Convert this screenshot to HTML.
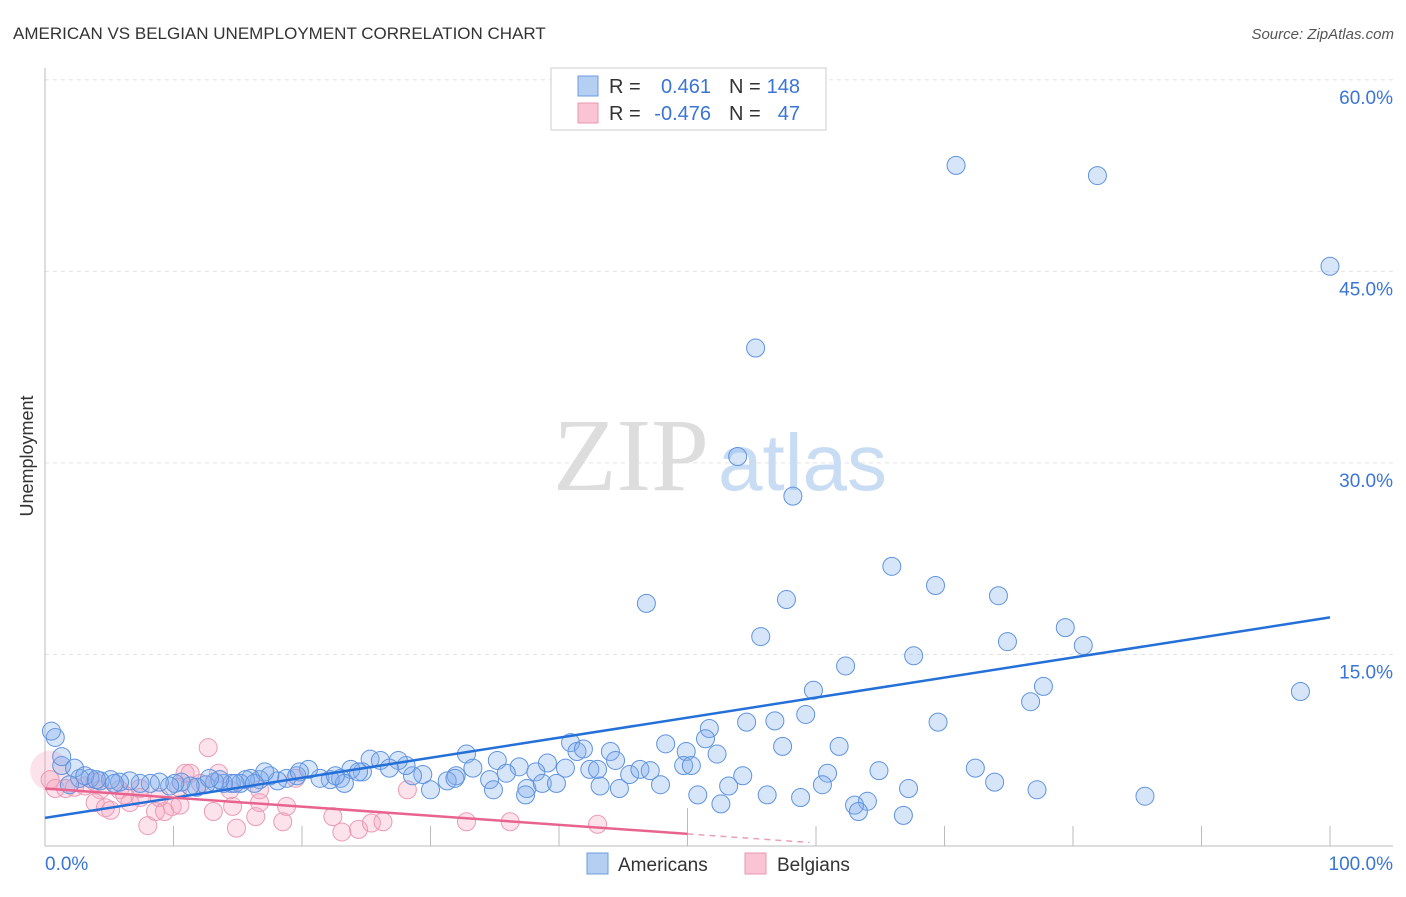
<!DOCTYPE html>
<html><head><meta charset="utf-8"><style>
body{margin:0;background:#fff;font-family:"Liberation Sans",sans-serif}
svg text{font-family:"Liberation Sans",sans-serif}
</style></head><body>
<svg id="c" width="1406" height="892" xmlns="http://www.w3.org/2000/svg">
<text x="13" y="39" font-size="17" fill="#333">AMERICAN VS BELGIAN UNEMPLOYMENT CORRELATION CHART</text>
<text x="1394" y="39" font-size="15" fill="#555" font-style="italic" text-anchor="end">Source: ZipAtlas.com</text>
<text transform="translate(33,456) rotate(-90)" font-size="18" fill="#333" text-anchor="middle">Unemployment</text>
<g id="grid"></g>
<text x="553" y="490" font-size="104" fill="#ddd" style="font-family:'Liberation Serif',serif">ZIP</text>
<text x="718" y="490" font-size="80" fill="#c8dcf3">atlas</text>
<g id="pts"></g>
<g id="lines"></g>
<g>
<rect x="551" y="68" width="275" height="62" fill="#fff" stroke="#ccc"/>
<rect x="578" y="76" width="20" height="20" fill="#b5cff3" stroke="#6d9be0"/>
<rect x="578" y="103" width="20" height="20" fill="#f9c4d3" stroke="#e999b2"/>
<text x="609" y="93" font-size="20" fill="#333">R =</text>
<text x="711" y="93" font-size="20" fill="#3a75d6" text-anchor="end">0.461</text>
<text x="729" y="93" font-size="20" fill="#333">N =</text>
<text x="800" y="93" font-size="20" fill="#3a75d6" text-anchor="end">148</text>
<text x="609" y="120" font-size="20" fill="#333">R =</text>
<text x="711" y="120" font-size="20" fill="#3a75d6" text-anchor="end">-0.476</text>
<text x="729" y="120" font-size="20" fill="#333">N =</text>
<text x="800" y="120" font-size="20" fill="#3a75d6" text-anchor="end">47</text>
</g>
<g>
<rect x="587" y="853" width="21" height="21" fill="#b5cff3" stroke="#6d9be0"/>
<text x="618" y="871" font-size="19" fill="#333">Americans</text>
<rect x="745" y="853" width="21" height="21" fill="#f9c4d3" stroke="#e999b2"/>
<text x="777" y="871" font-size="19" fill="#333">Belgians</text>
</g>
</svg>
<script>
const yTicks=[15,30,45,60];
const yTickLabels=["15.0%","30.0%","45.0%","60.0%"];
const xTicks=[0,10,20,30,40,50,60,70,80,90,100];
const xEndLabels=["0.0%","100.0%"];
const blueX=[70.9,81.9,100,55.3,53.9,58.2,65.9,69.3,74.2,46.8,57.7,55.7,74.9,79.4,80.8,62.3,67.6,59.8,77.7,76.7,97.7,59.2,54.6,56.8,69.5,51.7,51.4,48.3,57.4,61.8,52.3,49.9,49.7,50.3,72.4,64.9,60.9,54.3,73.9,77.2,67.2,60.5,53.2,50.8,56.2,58.8,64.0,63.0,63.3,66.8,85.6,52.6,32.8,35.2,36.9,39.1,40.9,41.4,41.9,44.0,44.4,42.4,40.5,38.2,35.9,34.6,33.3,32.0,31.3,30.0,29.4,28.6,28.1,27.5,25.3,26.1,26.8,24.7,23.8,23.0,22.2,21.4,20.5,19.6,18.8,18.1,17.5,16.7,16.0,15.6,15.2,14.5,13.9,13.2,12.5,11.8,11.3,10.6,10.1,9.7,8.9,8.2,7.4,6.6,5.8,5.1,4.3,3.5,2.7,1.9,1.3,0.8,0.5,1.3,2.3,3.1,4.0,37.5,38.7,39.8,43.2,44.7,45.5,46.3,47.1,47.9,43.0,37.4,34.9,31.9,24.4,23.3,22.6,19.8,17.1,16.3,14.8,13.6,12.8,5.4];
const blueY=[53.3,52.5,45.4,39.0,30.5,27.4,21.9,20.4,19.6,19.0,19.3,16.4,16.0,17.1,15.7,14.1,14.9,12.2,12.5,11.3,12.1,10.3,9.7,9.8,9.7,9.2,8.4,8.0,7.8,7.8,7.2,7.4,6.3,6.3,6.1,5.9,5.7,5.5,5.0,4.4,4.5,4.8,4.7,4.0,4.0,3.8,3.5,3.2,2.7,2.4,3.9,3.3,7.2,6.7,6.2,6.5,8.1,7.4,7.6,7.4,6.7,6.0,6.1,5.8,5.7,5.2,6.1,5.5,5.1,4.4,5.6,5.5,6.3,6.7,6.8,6.7,6.1,5.8,6.0,5.3,5.2,5.3,6.0,5.5,5.3,5.1,5.5,5.2,5.3,5.2,4.9,4.9,4.9,5.0,4.8,4.6,4.7,5.0,4.9,4.7,5.0,4.9,4.9,5.1,5.0,5.2,5.1,5.3,5.3,4.8,6.3,8.5,9.0,7.0,6.1,5.5,5.2,4.5,4.9,4.9,4.7,4.5,5.6,6.0,5.9,4.8,6.0,4.0,4.4,5.3,5.8,4.9,5.5,5.8,5.8,4.9,4.9,5.2,5.3,4.9];
const pinkX=[0.4,0.4,0.8,1.6,2.3,3.1,3.9,4.3,3.9,4.7,5.1,5.8,6.2,6.6,7.4,8.0,8.6,8.9,9.3,9.9,10.5,10.9,11.3,12.1,12.7,13.1,13.5,14.6,14.9,16.4,16.7,18.5,18.8,19.5,22.4,23.1,24.4,25.4,26.3,28.2,32.8,36.2,43.0,7.4,10.4,14.4,16.7];
const pinkY=[5.9,5.2,4.5,4.5,4.6,4.7,5.0,4.4,3.4,3.0,2.8,4.4,4.0,3.4,3.8,1.6,2.7,3.8,2.7,3.1,3.2,5.7,5.7,4.9,7.7,2.7,5.7,3.1,1.4,2.3,3.4,1.9,3.1,5.3,2.3,1.1,1.3,1.8,1.9,4.4,1.9,1.9,1.7,4.5,4.6,4.4,4.4];
const blueTrend=[2.2,17.9];
const pinkTrend=[4.5,-2.6];
const X=v=>45+v*12.85, Y=v=>846-v*12.77;
const NS="http://www.w3.org/2000/svg";
function mk(t,a,p){const e=document.createElementNS(NS,t);for(const k in a)e.setAttribute(k,a[k]);p.appendChild(e);return e;}
const g=document.getElementById('grid');
yTicks.forEach((t,i)=>{
 const l=mk('line',{x1:45,x2:1393,y1:Y(t),y2:Y(t),stroke:'#e3e3e3','stroke-dasharray':'4,4'},g);
 
 
 const tx=mk('text',{x:1393,y:Y(t)+24,'font-size':19,fill:'#3a75d6','text-anchor':'end'},g);
 tx.textContent=yTickLabels[i];
 
 
});
const ax=mk('line',{x1:45,x2:1393,y1:846,y2:846,stroke:'#bbb'},g);


const ay=mk('line',{x1:45,x2:45,y1:68,y2:846,stroke:'#bbb'},g);


xTicks.forEach(t=>{
 const l=mk('line',{x1:X(t),x2:X(t),y1:t==50?808:826,y2:846,stroke:'#bbb'},g);
 
 
});
[[0,'start'],[100,'end']].forEach((d,i)=>{
 const tx=mk('text',{x:i?1393:45,y:870,'font-size':19,fill:'#3a75d6','text-anchor':d[1]},g);
 tx.textContent=xEndLabels[i];
 
 
});
const p=document.getElementById('pts');
pinkX.forEach((v,i)=>{
 const c=mk('circle',{cx:X(v),cy:Y(pinkY[i]),r:i==0?20:9,fill:'rgba(244,160,188,0.3)',stroke:i==0?'none':'#eb9bb5','stroke-width':1},p);
 
 
});
blueX.forEach((v,i)=>{
 const c=mk('circle',{cx:X(v),cy:Y(blueY[i]),r:9,fill:'rgba(130,175,235,0.32)',stroke:'#5f93e0','stroke-width':1},p);
 
 
});
const L=document.getElementById('lines');
const bl=mk('line',{x1:X(0),y1:Y(blueTrend[0]),x2:X(100),y2:Y(blueTrend[1]),stroke:'#2470d8','stroke-width':2.5},L);


const py=x=>pinkTrend[0]+(pinkTrend[1]-pinkTrend[0])*x/100;
const xe=59.5;
const pl=mk('line',{x1:X(0),y1:Y(py(0)),x2:X(50),y2:Y(py(50)),stroke:'#e8648f','stroke-width':2.5},L);


const pd=mk('line',{x1:X(50),y1:Y(py(50)),x2:X(xe),y2:Y(Math.max(py(xe),0)),stroke:'#e8a0b8','stroke-width':1.5,'stroke-dasharray':'6,5'},L);


</script>
</body></html>
